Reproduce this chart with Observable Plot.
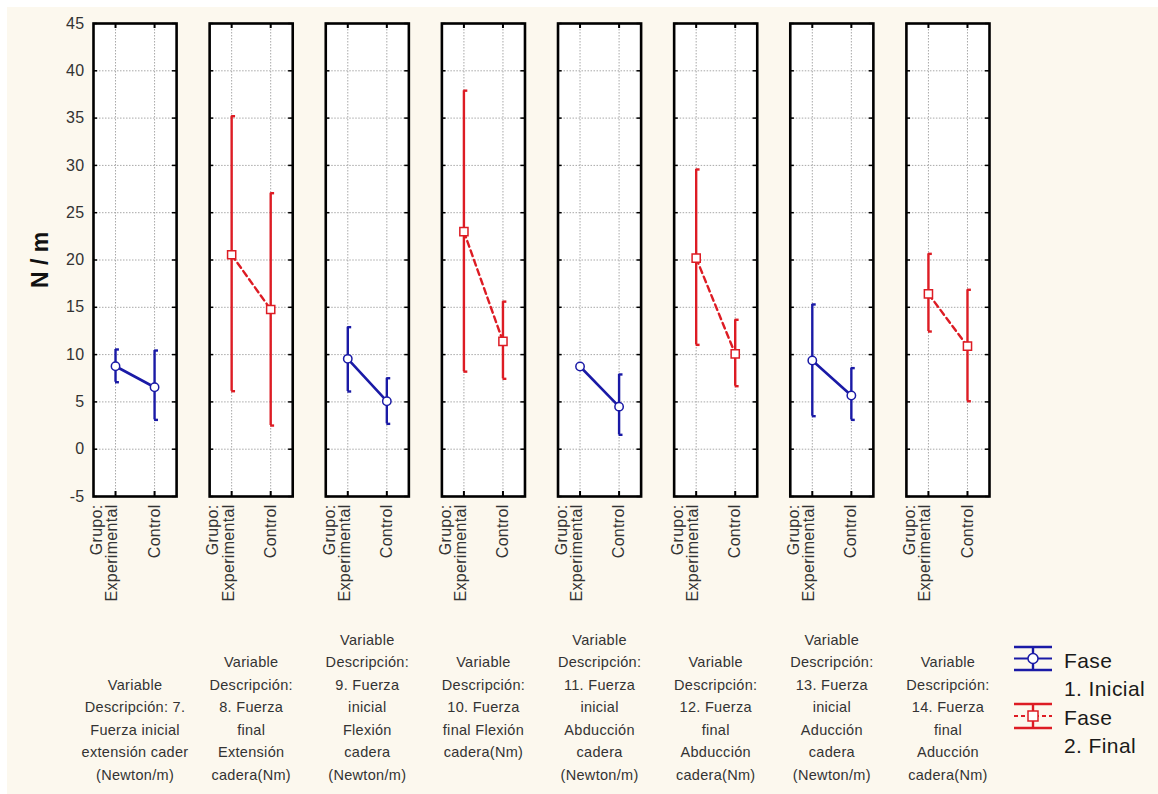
<!DOCTYPE html>
<html>
<head>
<meta charset="utf-8">
<script src="https://cdn.jsdelivr.net/npm/d3@7"></script>
<script src="https://cdn.jsdelivr.net/npm/@observablehq/plot@0.6"></script>
<style>
  html, body { margin: 0; padding: 0; background: #ffffff; }
  #page { position: relative; width: 1158px; height: 794px; overflow: hidden; font-family: "Liberation Sans", Arial, sans-serif; }
  #bg { position: absolute; left: 7px; top: 7px; right: 0; bottom: 0; background: #fcf8ee; }
  #chart { position: absolute; left: 0; top: 0; }
  #ylabel { position: absolute; left: 40px; top: 260px; transform: translate(-50%, -50%) rotate(-90deg); font-weight: bold; font-size: 23px; color: #111; white-space: nowrap; }
  #legend { position: absolute; left: 0; top: 0; }
</style>
</head>
<body>
<div id="page">
  <div id="bg"></div>
  <div id="chart"></div>
  <div id="ylabel">N / m</div>
  <svg id="legend" width="1158" height="794"></svg>
</div>
<script>
// ---- data ----
const variables = [7, 8, 9, 10, 11, 12, 13, 14];
const phaseOf = ["1. Inicial", "2. Final", "1. Inicial", "2. Final", "1. Inicial", "2. Final", "1. Inicial", "2. Final"];
const phases = ["1. Inicial", "2. Final"];
const phaseColors = ["#1a1aa6", "#dd1c24"];
const groups = ["Grupo:\nExperimental", "Control"];

const expMean  = [8.77, 20.55, 9.55, 23.0, 8.74, 20.2, 9.38, 16.42];
const expLow   = [7.08, 6.13, 6.1, 8.2, null, 11.03, 3.49, 12.44];
const expHigh  = [10.54, 35.2, 12.9, 37.9, null, 29.57, 15.3, 20.65];
const ctrlMean = [6.55, 14.77, 5.07, 11.4, 4.5, 10.08, 5.68, 10.89];
const ctrlLow  = [3.1, 2.5, 2.68, 7.44, 1.52, 6.66, 3.1, 5.07];
const ctrlHigh = [10.43, 27.06, 7.5, 15.6, 7.9, 13.68, 8.57, 16.85];

const yTicks = [-5, 0, 5, 10, 15, 20, 25, 30, 35, 40, 45];

const panelLabels = [
  ["Variable", "Descripción: 7.", "Fuerza inicial", "extensión cader", "(Newton/m)"],
  ["Variable", "Descripción:", "8. Fuerza", "final", "Extensión", "cadera(Nm)"],
  ["Variable", "Descripción:", "9. Fuerza", "inicial", "Flexión", "cadera", "(Newton/m)"],
  ["Variable", "Descripción:", "10. Fuerza", "final Flexión", "cadera(Nm)", ""],
  ["Variable", "Descripción:", "11. Fuerza", "inicial", "Abducción", "cadera", "(Newton/m)"],
  ["Variable", "Descripción:", "12. Fuerza", "final", "Abducción", "cadera(Nm)"],
  ["Variable", "Descripción:", "13. Fuerza", "inicial", "Aducción", "cadera", "(Newton/m)"],
  ["Variable", "Descripción:", "14. Fuerza", "final", "Aducción", "cadera(Nm)"]
];

const legendTitle = "Fase";

// ---- table built from the arrays ----
const rows = variables.flatMap((v, i) => [
  {v, g: 0, phase: phaseOf[i], mean: expMean[i], lo: expLow[i], hi: expHigh[i]},
  {v, g: 1, phase: phaseOf[i], mean: ctrlMean[i], lo: ctrlLow[i], hi: ctrlHigh[i]}
]);
const withCI = rows.filter(d => d.lo != null && d.hi != null);
const labelRows = variables.map((v, i) => ({v, text: panelLabels[i].join("\n")}));

const CAP = 0.1; // cap length, in x data units
const common = {fx: "v"};

const chart = Plot.plot({
  width: 1158,
  height: 794,
  marginTop: 23,
  marginLeft: 93,
  marginRight: 169,
  marginBottom: 298,
  style: {background: "transparent", fontFamily: "'Liberation Sans', Arial, sans-serif", fontSize: "16px", color: "#333", overflow: "visible", letterSpacing: "0.3px"},
  fx: {domain: variables, paddingInner: 0.2845, paddingOuter: 0, axis: null, round: false},
  x: {domain: [-0.564, 1.564], axis: null},
  y: {domain: [-5, 45], label: null},
  color: {domain: phases, range: phaseColors},
  marks: [
    Plot.frame({fill: "white"}),
    Plot.gridY(yTicks, {stroke: "#a8a8a8", strokeOpacity: 1, strokeDasharray: "1.5,1.5"}),
    Plot.gridX([0, 1], {stroke: "#a8a8a8", strokeOpacity: 1, strokeDasharray: "1.5,1.5"}),
    Plot.tickY(yTicks, {y: d => d, insetRight: 79, stroke: "black", strokeWidth: 1.5}),
    Plot.tickY(yTicks, {y: d => d, insetLeft: 79, stroke: "black", strokeWidth: 1.5}),
    Plot.tickX([0, 1], {x: d => d, insetBottom: 468, stroke: "black", strokeWidth: 2}),
    Plot.tickX([0, 1], {x: d => d, insetTop: 468, stroke: "black", strokeWidth: 2}),
    Plot.axisY(yTicks, {anchor: "left", tickSize: 0, tickPadding: 9, label: null, fontSize: 16, fill: "#333", tickFormat: d => String(d)}),
    // connecting lines
    Plot.line(rows.filter(d => d.phase === phases[0]), {...common, x: "g", y: "mean", z: "v", stroke: "phase", strokeWidth: 2.6}),
    Plot.line(rows.filter(d => d.phase === phases[1]), {...common, x: "g", y: "mean", z: "v", stroke: "phase", strokeWidth: 2.4, strokeDasharray: "6,4"}),
    // error bars
    Plot.ruleX(withCI, {...common, x: "g", y1: "lo", y2: "hi", stroke: "phase", strokeWidth: 2.4}),
    Plot.ruleY(withCI, {...common, y: "hi", x1: "g", x2: d => d.g + CAP, stroke: "phase", strokeWidth: 2.4}),
    Plot.ruleY(withCI, {...common, y: "lo", x1: "g", x2: d => d.g + CAP, stroke: "phase", strokeWidth: 2.4}),
    // markers
    Plot.dot(rows.filter(d => d.phase === phases[0]), {...common, x: "g", y: "mean", stroke: "phase", fill: "white", r: 4.2, strokeWidth: 1.5}),
    Plot.dot(rows.filter(d => d.phase === phases[1]), {...common, x: "g", y: "mean", stroke: "phase", fill: "white", r: 4.6, symbol: "square", strokeWidth: 1.5}),
    Plot.frame({stroke: "black", strokeWidth: 2.6}),
    // x tick labels (rotated)
    Plot.text([0], {x: d => d, text: () => groups[0], frameAnchor: "bottom", rotate: -90, textAnchor: "end", lineAnchor: "middle", lineHeight: 0.95, dy: 8, dx: -10.5, fontSize: 16, fill: "#333"}),
    Plot.text([1], {x: d => d, text: () => groups[1], frameAnchor: "bottom", rotate: -90, textAnchor: "end", lineAnchor: "middle", dy: 8, dx: 0, fontSize: 16, fill: "#333"}),
    // panel descriptions under each facet
    Plot.text(labelRows, {fx: "v", text: "text", frameAnchor: "bottom", lineAnchor: "bottom", lineHeight: 1.55, dy: 283, fontSize: 14.5, fill: "#333"})
  ]
});
document.getElementById("chart").appendChild(chart);

// ---- legend ----
const lg = d3.select("#legend");
const items = [
  {label: phases[0], color: phaseColors[0], top: 647, bottom: 670, mid: 658.5, symbol: "circle", dash: null, tY: 660},
  {label: phases[1], color: phaseColors[1], top: 704, bottom: 728, mid: 716, symbol: "square", dash: "4,3", tY: 717}
];
const x0 = 1014, x1 = 1052, xc = 1033;
for (const it of items) {
  const g = lg.append("g");
  g.append("line").attr("x1", x0).attr("x2", x1).attr("y1", it.top).attr("y2", it.top).attr("stroke", it.color).attr("stroke-width", 2.4);
  g.append("line").attr("x1", x0).attr("x2", x1).attr("y1", it.bottom).attr("y2", it.bottom).attr("stroke", it.color).attr("stroke-width", 2.4);
  g.append("line").attr("x1", xc).attr("x2", xc).attr("y1", it.top).attr("y2", it.bottom).attr("stroke", it.color).attr("stroke-width", 2.4);
  const m = g.append("line").attr("x1", x0).attr("x2", x1).attr("y1", it.mid).attr("y2", it.mid).attr("stroke", it.color).attr("stroke-width", 2.2);
  if (it.dash) m.attr("stroke-dasharray", it.dash);
  if (it.symbol === "circle") {
    g.append("circle").attr("cx", xc).attr("cy", it.mid).attr("r", 5).attr("fill", "white").attr("stroke", it.color).attr("stroke-width", 1.5);
  } else {
    g.append("rect").attr("x", xc - 5).attr("y", it.mid - 5).attr("width", 10).attr("height", 10).attr("fill", "white").attr("stroke", it.color).attr("stroke-width", 1.5);
  }
  const t = g.append("text").attr("x", 1064).attr("y", it.tY + 7.5).attr("font-size", 21).attr("fill", "#1a1a1a")
    .attr("font-family", "'Liberation Sans', Arial, sans-serif").attr("letter-spacing", "0.4px");
  t.append("tspan").attr("x", 1064).text(legendTitle);
  t.append("tspan").attr("x", 1064).attr("dy", 28).text(it.label);
}
</script>
</body>
</html>
